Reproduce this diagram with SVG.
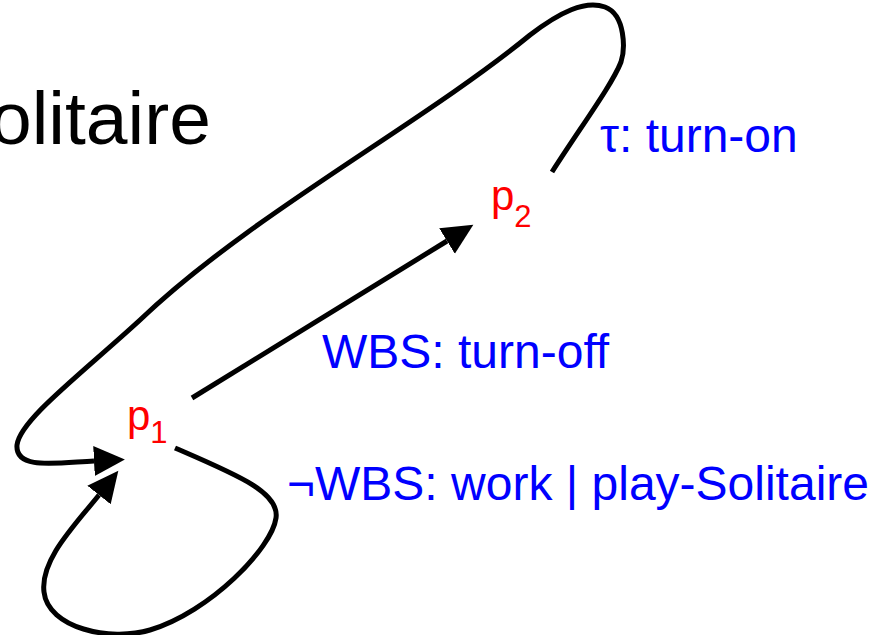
<svg xmlns="http://www.w3.org/2000/svg" width="882" height="635" viewBox="0 0 882 635">
<style>
text{font-family:"Liberation Sans",Arial,sans-serif}
.lbl{fill:#0000ff;font-size:48px}
.st{fill:#ff0000;font-size:42px}
.sub{font-size:31px}
.edge{fill:none;stroke:#000;stroke-width:5}
</style>
<defs>
<marker id="ah" markerUnits="userSpaceOnUse" markerWidth="32" markerHeight="32" refX="0" refY="14" orient="auto" viewBox="0 0 30 28">
<path d="M0,0 L29,14 L0,28 z" fill="#000"/>
</marker>
</defs>
<rect width="882" height="635" fill="#fff"/>
<text x="-10" y="144" font-size="75" fill="#000">olitaire</text>
<g id="connectors">
<path class="edge" d="M192 398 L447 241" marker-end="url(#ah)"/>
<path class="edge" d="M552 172 C580 128 612 85 621 62 C625 50 626 15 605 7 C585 0 560 12 530 35 C420 125 250 215 140 320 C80 375 20 420 17 445 C15 470 55 463 94 461" marker-end="url(#ah)"/>
<path class="edge" d="M175 448 C235 474 280 492 276 518 C272 548 210 612 150 630 C110 642 48 628 44 592 C40 560 75 525 99 495" marker-end="url(#ah)"/>
</g>
<g id="p1"><text class="st" x="127" y="430">p<tspan class="sub" dy="13">1</tspan></text></g>
<g id="p2"><text class="st" x="491" y="210">p<tspan class="sub" dy="17">2</tspan></text></g>
<g id="labels">
<text class="lbl" x="600" y="152">τ: turn-on</text>
<text class="lbl" x="322" y="368">WBS: turn-off</text>
<text class="lbl" x="287" y="500">¬WBS: work | play-Solitaire</text>
</g>
</svg>
